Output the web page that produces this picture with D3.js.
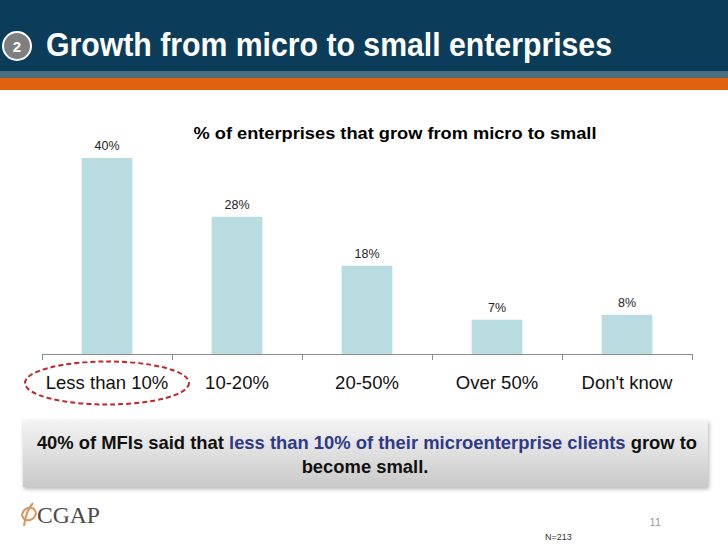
<!DOCTYPE html>
<html><head><meta charset="utf-8">
<script src="https://cdn.jsdelivr.net/npm/d3@7/dist/d3.min.js"></script>
<style>body{margin:0;background:#fff}svg{display:block}</style>
</head><body>
<script>
const categories = ["Less than 10%", "10-20%", "20-50%", "Over 50%", "Don't know"];
const values = [40, 28, 18, 7, 8];
const valueLabels = ["40%", "28%", "18%", "7%", "8%"];
const slideTitle = "Growth from micro to small enterprises";
const chartTitle = "% of enterprises that grow from micro to small";

const W = 728, H = 546;
const SANS = "Liberation Sans, Arial, sans-serif";
const svg = d3.select("body").append("svg").attr("width", W).attr("height", H);
const defs = svg.append("defs");
const grad = defs.append("linearGradient").attr("id","boxg").attr("x1",0).attr("y1",0).attr("x2",0).attr("y2",1);
grad.append("stop").attr("offset","0%").attr("stop-color","#f4f4f4");
grad.append("stop").attr("offset","100%").attr("stop-color","#c9c9c9");
const sh = defs.append("filter").attr("id","sh").attr("x","-5%").attr("y","-20%").attr("width","110%").attr("height","150%");
sh.append("feDropShadow").attr("dx",1).attr("dy",2).attr("stdDeviation",2).attr("flood-color","#000").attr("flood-opacity",0.3);

// Header
svg.append("rect").attr("x",0).attr("y",0).attr("width",W).attr("height",71).attr("fill","#0b3d5b");
svg.append("rect").attr("x",0).attr("y",71).attr("width",W).attr("height",7).attr("fill","#4b6d7e");
svg.append("rect").attr("x",0).attr("y",78).attr("width",W).attr("height",12).attr("fill","#e0610e");
svg.append("circle").attr("cx",17).attr("cy",46).attr("r",14).attr("fill","#7f7f7f").attr("stroke","#fff").attr("stroke-width",2);
svg.append("text").attr("x",17).attr("y",52).attr("text-anchor","middle").attr("fill","#fff")
  .attr("font-family",SANS).attr("font-weight","bold").attr("font-size",15).text("2");
svg.append("text").attr("x",46).attr("y",56).attr("fill","#fff")
  .attr("font-family",SANS).attr("font-weight","bold").attr("font-size",33)
  .attr("textLength",566).attr("lengthAdjust","spacingAndGlyphs").text(slideTitle);

// Chart
const x = d3.scaleBand().domain(categories).range([42, 692]).paddingInner(0.61).paddingOuter(0.305);
const xTick = d3.scaleBand().domain(categories).range([42, 692]);
const y = d3.scaleLinear().domain([0, 40]).range([354, 158]);

svg.append("text").attr("x",395).attr("y",139).attr("text-anchor","middle").attr("fill","#000")
  .attr("font-family",SANS).attr("font-weight","bold").attr("font-size",17)
  .attr("textLength",403).attr("lengthAdjust","spacingAndGlyphs").text(chartTitle);

svg.selectAll("rect.bar").data(values).join("rect").attr("class","bar")
  .attr("x",(d,i)=>x(categories[i])).attr("width",x.bandwidth())
  .attr("y",d=>y(d)).attr("height",d=>y(0)-y(d)).attr("fill","#b9dce1");

svg.selectAll("text.vl").data(values).join("text").attr("class","vl")
  .attr("x",(d,i)=>x(categories[i])+x.bandwidth()/2).attr("y",d=>y(d)-8)
  .attr("text-anchor","middle").attr("fill","#222")
  .attr("font-family",SANS).attr("font-size",12.5)
  .text((d,i)=>valueLabels[i]);

// axis
const ax = svg.append("g").attr("stroke","#8c8c8c").attr("stroke-width",1);
ax.append("line").attr("x1",42).attr("x2",692).attr("y1",354.5).attr("y2",354.5);
const tickXs = categories.map(c=>xTick(c)).concat([692]);
ax.selectAll("line.t").data(tickXs).join("line").attr("class","t")
  .attr("x1",d=>Math.round(d)+0.5).attr("x2",d=>Math.round(d)+0.5).attr("y1",354).attr("y2",360);

svg.selectAll("text.cat").data(categories).join("text").attr("class","cat")
  .attr("x",c=>xTick(c)+xTick.bandwidth()/2).attr("y",389).attr("text-anchor","middle").attr("fill","#111")
  .attr("font-family",SANS).attr("font-size",18.5)
  .text(c=>c);

// ellipse highlight
svg.append("ellipse").attr("cx",107).attr("cy",383).attr("rx",82).attr("ry",21.5)
  .attr("fill","none").attr("stroke","#c0272d").attr("stroke-width",2).attr("stroke-dasharray","5,3");

// callout box
svg.append("rect").attr("x",23).attr("y",420).attr("width",685).attr("height",67).attr("fill","url(#boxg)").attr("filter","url(#sh)");
const t1 = svg.append("text").attr("x",367).attr("y",449).attr("text-anchor","middle")
  .attr("font-family",SANS).attr("font-weight","bold").attr("font-size",18.4);
t1.append("tspan").attr("fill","#111").text("40% of MFIs said that ");
t1.append("tspan").attr("fill","#2f3a86").text(" less than 10% of their microenterprise clients");
t1.append("tspan").attr("fill","#111").text(" grow to");
svg.append("text").attr("x",365).attr("y",473).attr("text-anchor","middle").attr("fill","#111")
  .attr("font-family",SANS).attr("font-weight","bold").attr("font-size",18.4).text("become small.");

// footer logo
const lg = svg.append("g").attr("fill","none").attr("stroke","#d9955a").attr("stroke-width",2);
lg.append("ellipse").attr("cx",29).attr("cy",514).attr("rx",7).attr("ry",6).attr("transform","rotate(-30,29,514)");
lg.append("path").attr("d","M33,503 C27,510 25,518 24,526");
svg.append("text").attr("x",37).attr("y",523).attr("fill","#4a4a4a")
  .attr("font-family","Liberation Serif, Times New Roman, serif").attr("font-size",24)
  .attr("textLength",63).attr("lengthAdjust","spacingAndGlyphs").text("CGAP");
svg.append("text").attr("x",661).attr("y",526).attr("text-anchor","end").attr("fill","#999")
  .attr("font-family",SANS).attr("font-size",11).text("11");
svg.append("text").attr("x",545).attr("y",540).attr("fill","#333")
  .attr("font-family",SANS).attr("font-size",9).text("N=213");
</script>
</body></html>
